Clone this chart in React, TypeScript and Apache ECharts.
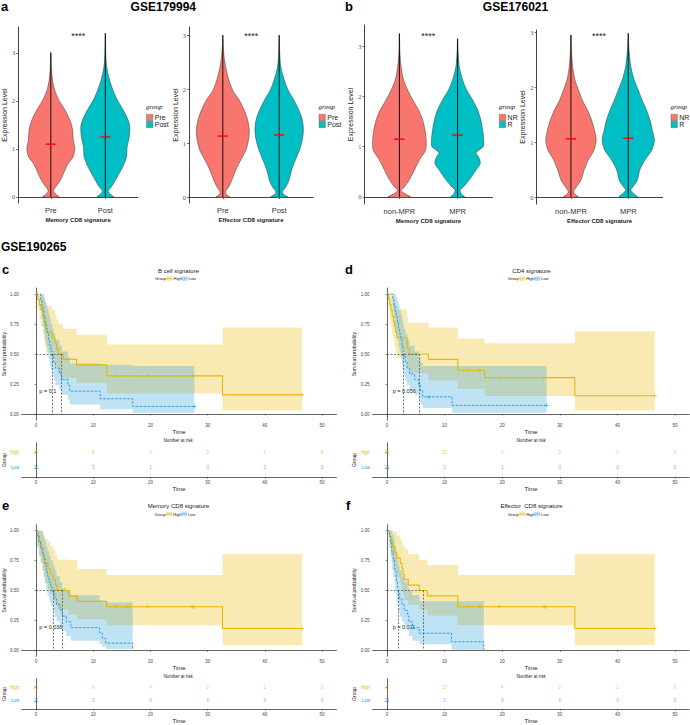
import React, { useEffect, useRef } from "react";
import * as echarts from "echarts";

const FONT = '"Liberation Sans", Arial, sans-serif';
const SERIF = '"Liberation Serif", "Times New Roman", serif';
const HIGH_C = "#E7B800";
const LOW_C = "#2E9FDF";
const HIGH_FILL = "rgba(231,184,0,0.3)";
const LOW_FILL = "rgba(46,159,223,0.3)";
const GROUP_A = "#F8766D";
const GROUP_B = "#00BFC4";
const PLUS = "path://M4,0H6V4H10V6H6V10H4V6H0V4H4Z";

// ---------------- violin data (y value, half-width in category units) ----------------
const catsA = ["Pre", "Post"];
const catsB = ["non-MPR", "MPR"];
const groupsA = ["Pre", "Post"];
const groupsB = ["NR", "R"];
const violinYTicks = [0, 1, 2, 3];

const v1Pre = [[0, 0.15], [0.05, 0.1], [0.1, 0.06], [0.14, 0.05], [0.21, 0.09], [0.35, 0.175], [0.56, 0.26], [0.7, 0.32], [0.84, 0.41], [1.02, 0.44], [1.19, 0.41], [1.4, 0.4], [1.6, 0.35], [1.81, 0.26], [2.02, 0.146], [2.23, 0.07], [2.44, 0.03], [2.7, 0.01], [3.01, 0]];
const v1Post = [[0, 0.15], [0.05, 0.1], [0.1, 0.06], [0.14, 0.06], [0.24, 0.13], [0.42, 0.22], [0.63, 0.32], [0.84, 0.39], [1.04, 0.4], [1.25, 0.44], [1.46, 0.45], [1.6, 0.42], [1.81, 0.33], [2.02, 0.22], [2.23, 0.14], [2.44, 0.077], [2.71, 0.025], [3.0, 0.008], [3.41, 0]];
const v1Means = [1.1, 1.25];

const v2Pre = [[0, 0.12], [0.05, 0.06], [0.1, 0.05], [0.19, 0.105], [0.31, 0.16], [0.5, 0.23], [0.69, 0.32], [0.87, 0.41], [1.06, 0.456], [1.24, 0.47], [1.43, 0.44], [1.61, 0.38], [1.8, 0.29], [1.98, 0.175], [2.23, 0.09], [2.54, 0.03], [2.8, 0.008], [3.0, 0]];
const v2Post = [[0, 0.15], [0.05, 0.08], [0.1, 0.06], [0.19, 0.12], [0.31, 0.175], [0.5, 0.22], [0.69, 0.29], [0.87, 0.36], [1.06, 0.41], [1.24, 0.43], [1.43, 0.41], [1.61, 0.35], [1.8, 0.26], [1.98, 0.16], [2.17, 0.09], [2.41, 0.03], [2.7, 0.008], [3.0, 0]];
const v2Means = [1.13, 1.15];

const v3NonMPR = [[0, 0.19], [0.07, 0.086], [0.13, 0.03], [0.2, 0.086], [0.34, 0.17], [0.54, 0.26], [0.74, 0.345], [0.93, 0.45], [1.13, 0.46], [1.33, 0.44], [1.53, 0.4], [1.73, 0.33], [1.93, 0.23], [2.13, 0.14], [2.33, 0.07], [2.59, 0.03], [2.9, 0.008], [3.25, 0]];
const v3MPR = [[0, 0.115], [0.07, 0.06], [0.14, 0.046], [0.2, 0.1], [0.34, 0.2], [0.54, 0.32], [0.67, 0.39], [0.8, 0.36], [0.88, 0.32], [1.0, 0.44], [1.13, 0.45], [1.33, 0.43], [1.53, 0.4], [1.73, 0.345], [1.93, 0.26], [2.13, 0.155], [2.33, 0.086], [2.59, 0.03], [2.9, 0.008], [3.15, 0]];
const v3Means = [1.15, 1.23];

const v4NonMPR = [[0, 0.13], [0.05, 0.07], [0.1, 0.047], [0.19, 0.1], [0.31, 0.175], [0.49, 0.23], [0.67, 0.3], [0.85, 0.4], [1.04, 0.44], [1.22, 0.41], [1.4, 0.36], [1.58, 0.29], [1.76, 0.2], [1.95, 0.13], [2.13, 0.07], [2.37, 0.03], [2.7, 0.008], [2.95, 0]];
const v4MPR = [[0, 0.16], [0.07, 0.088], [0.13, 0.047], [0.19, 0.088], [0.31, 0.16], [0.49, 0.2], [0.67, 0.29], [0.85, 0.41], [1.04, 0.456], [1.22, 0.42], [1.4, 0.38], [1.58, 0.32], [1.76, 0.245], [1.95, 0.175], [2.13, 0.105], [2.37, 0.047], [2.7, 0.012], [2.98, 0]];
const v4Means = [1.06, 1.07];

// ---------------- Kaplan-Meier data: [time, survival, lower CI, upper CI] ----------------
const timeTicks = [0, 10, 20, 30, 40, 50];
const survTicks = [0, 0.25, 0.5, 0.75, 1];

const cHigh = [[0, 1, 1, 1], [0.3, 0.955, 0.87, 1], [0.6, 0.909, 0.79, 1], [0.9, 0.864, 0.73, 1], [1.2, 0.818, 0.67, 0.99], [1.4, 0.773, 0.61, 0.96], [1.6, 0.727, 0.56, 0.93], [1.8, 0.682, 0.51, 0.9], [2.8, 0.636, 0.47, 0.87], [3.3, 0.591, 0.42, 0.83], [3.6, 0.545, 0.38, 0.79], [3.9, 0.5, 0.34, 0.75], [4.75, 0.455, 0.3, 0.71], [7.1, 0.409, 0.26, 0.66], [12.4, 0.318, 0.17, 0.58], [32.6, 0.159, 0.03, 0.72], [46.5, 0.159, 0.03, 0.72]];
const cLow = [[0, 1, 1, 1], [0.8, 0.952, 0.86, 1], [1.0, 0.905, 0.79, 1], [1.2, 0.857, 0.73, 1], [1.4, 0.81, 0.67, 0.97], [1.6, 0.762, 0.61, 0.94], [1.8, 0.714, 0.56, 0.91], [2.0, 0.667, 0.51, 0.87], [2.2, 0.619, 0.46, 0.83], [2.4, 0.571, 0.41, 0.79], [2.6, 0.524, 0.37, 0.75], [2.84, 0.476, 0.32, 0.71], [3.1, 0.429, 0.28, 0.67], [3.4, 0.381, 0.24, 0.62], [4.1, 0.333, 0.2, 0.57], [4.5, 0.286, 0.16, 0.52], [5.6, 0.238, 0.12, 0.47], [5.9, 0.19, 0.08, 0.42], [11.2, 0.127, 0.04, 0.41], [16.9, 0.063, 0.01, 0.4], [27.7, 0.063, 0.01, 0.4]];
const cHighCens = [[14.1, 0.318], [16.1, 0.318], [19.6, 0.318], [27.4, 0.318], [46.5, 0.159]];
const cLowCens = [[27.7, 0.063]];
const cMedians = [2.84, 4.46];
const cRiskHigh = [22, 9, 3, 2, 1, 0];
const cRiskLow = [21, 3, 1, 0, 0, 0];

const dHigh = [[0, 1, 1, 1], [0.3, 0.955, 0.87, 1], [0.5, 0.909, 0.79, 1], [0.7, 0.864, 0.73, 1], [0.9, 0.818, 0.67, 0.99], [1.1, 0.773, 0.61, 0.96], [1.3, 0.727, 0.56, 0.93], [1.5, 0.682, 0.51, 0.9], [1.7, 0.636, 0.47, 0.87], [3.5, 0.591, 0.42, 0.8], [3.6, 0.545, 0.38, 0.76], [3.9, 0.5, 0.34, 0.76], [7.2, 0.455, 0.28, 0.72], [12.3, 0.364, 0.21, 0.63], [16.95, 0.303, 0.15, 0.59], [32.6, 0.152, 0.03, 0.69], [46.5, 0.152, 0.03, 0.69]];
const dLow = [[0, 1, 1, 1], [1.0, 0.952, 0.86, 1], [1.2, 0.905, 0.79, 1], [1.4, 0.857, 0.73, 1], [1.6, 0.81, 0.67, 0.97], [1.8, 0.762, 0.61, 0.94], [2.0, 0.714, 0.56, 0.91], [2.2, 0.667, 0.51, 0.87], [2.4, 0.619, 0.46, 0.83], [2.6, 0.571, 0.41, 0.79], [2.75, 0.524, 0.37, 0.75], [2.9, 0.476, 0.32, 0.71], [3.2, 0.429, 0.28, 0.67], [3.5, 0.381, 0.24, 0.62], [3.9, 0.333, 0.2, 0.57], [4.8, 0.286, 0.16, 0.52], [5.5, 0.238, 0.12, 0.47], [5.8, 0.19, 0.08, 0.43], [6.2, 0.143, 0.05, 0.4], [11.3, 0.072, 0.011, 0.4], [27.7, 0.072, 0.011, 0.4]];
const dHighCens = [[14.1, 0.364], [16.1, 0.364], [19.5, 0.303], [27.2, 0.303], [46.5, 0.152]];
const dLowCens = [[7.3, 0.143], [27.7, 0.072]];
const dMedians = [2.9, 5.55];
const dRiskHigh = [22, 10, 3, 2, 1, 0];
const dRiskLow = [21, 2, 1, 0, 0, 0];

const eHigh = [[0, 1, 1, 1], [0.35, 0.955, 0.87, 1], [0.6, 0.909, 0.79, 1], [0.9, 0.864, 0.73, 1], [1.1, 0.818, 0.67, 0.99], [1.3, 0.773, 0.61, 0.96], [1.5, 0.727, 0.56, 0.93], [2.1, 0.682, 0.51, 0.91], [2.5, 0.636, 0.47, 0.87], [3.0, 0.591, 0.42, 0.84], [3.4, 0.545, 0.38, 0.8], [3.7, 0.5, 0.34, 0.76], [5.7, 0.455, 0.3, 0.755], [7.2, 0.409, 0.26, 0.68], [12.35, 0.364, 0.21, 0.63], [32.6, 0.182, 0.044, 0.805], [46.5, 0.182, 0.044, 0.805]];
const eLow = [[0, 1, 1, 1], [0.2, 0.952, 0.86, 1], [0.5, 0.905, 0.79, 1], [0.8, 0.857, 0.73, 1], [1.2, 0.81, 0.67, 0.97], [1.4, 0.762, 0.61, 0.94], [1.6, 0.714, 0.56, 0.91], [1.8, 0.667, 0.51, 0.87], [2.0, 0.619, 0.46, 0.83], [2.3, 0.571, 0.41, 0.79], [2.6, 0.524, 0.37, 0.75], [2.96, 0.476, 0.32, 0.71], [3.3, 0.429, 0.28, 0.67], [3.6, 0.381, 0.24, 0.62], [4.2, 0.333, 0.2, 0.57], [4.6, 0.286, 0.16, 0.52], [5.3, 0.238, 0.12, 0.5], [6.1, 0.19, 0.08, 0.46], [11.1, 0.145, 0.05, 0.42], [11.6, 0.1, 0.03, 0.4], [12.2, 0.06, 0.01, 0.4], [16.9, 0, 0, 0]];
const eHighCens = [[14.0, 0.364], [16.0, 0.364], [16.3, 0.364], [19.5, 0.364], [27.3, 0.364], [27.6, 0.364], [46.5, 0.182]];
const eLowCens: number[][] = [];
const eMedians = [3.0, 4.65];
const eRiskHigh = [22, 9, 4, 2, 1, 0];
const eRiskLow = [21, 3, 0, 0, 0, 0];

const fHigh = [[0, 1, 1, 1], [0.4, 0.955, 0.87, 1], [0.7, 0.909, 0.79, 1], [1.0, 0.864, 0.73, 1], [1.3, 0.818, 0.67, 0.99], [1.7, 0.773, 0.61, 0.96], [2.3, 0.727, 0.56, 0.93], [2.6, 0.682, 0.51, 0.9], [2.8, 0.636, 0.47, 0.87], [3.0, 0.591, 0.42, 0.85], [3.7, 0.545, 0.38, 0.805], [5.6, 0.5, 0.34, 0.755], [7.0, 0.455, 0.29, 0.713], [12.3, 0.364, 0.21, 0.63], [32.6, 0.182, 0.044, 0.805], [46.5, 0.182, 0.044, 0.805]];
const fLow = [[0, 1, 1, 1], [0.4, 0.952, 0.86, 1], [0.6, 0.905, 0.79, 1], [0.8, 0.857, 0.73, 1], [0.9, 0.81, 0.67, 0.97], [1.1, 0.762, 0.61, 0.94], [1.3, 0.714, 0.56, 0.91], [1.4, 0.667, 0.51, 0.87], [1.6, 0.619, 0.46, 0.83], [1.7, 0.571, 0.41, 0.79], [1.85, 0.524, 0.37, 0.75], [1.97, 0.476, 0.32, 0.71], [2.2, 0.429, 0.28, 0.67], [2.6, 0.381, 0.24, 0.62], [3.0, 0.333, 0.2, 0.57], [3.6, 0.286, 0.16, 0.53], [3.8, 0.238, 0.12, 0.5], [4.4, 0.19, 0.08, 0.46], [5.6, 0.143, 0.05, 0.41], [11.2, 0.071, 0.005, 0.41], [16.8, 0, 0, 0]];
const fHighCens = [[14.1, 0.364], [16.0, 0.364], [16.2, 0.364], [19.5, 0.364], [27.3, 0.364], [27.6, 0.364], [46.5, 0.182]];
const fLowCens: number[][] = [];
const fMedians = [1.97, 6.3];
const fRiskHigh = [22, 10, 4, 2, 1, 0];
const fRiskLow = [21, 2, 0, 0, 0, 0];

// ---------------- layout ----------------
const violinPanels = [
  { left: 14, top: 27, width: 124, height: 176, yMin: -0.125, yMax: 3.54, cats: catsA, groups: groupsA, xName: "Memory CD8 signature", shapes: [v1Pre, v1Post], means: v1Means, nameGap: 5.5, starX: 78.3, legendX: 146.5 },
  { left: 189, top: 27, width: 124, height: 176, yMin: -0.11, yMax: 3.15, cats: catsA, groups: groupsA, xName: "Effector CD8 signature", shapes: [v2Pre, v2Post], means: v2Means, nameGap: 8.5, starX: 251.3, legendX: 319 },
  { left: 364.5, top: 25, width: 128, height: 179, yMin: -0.14, yMax: 3.42, cats: catsB, groups: groupsB, xName: "Memory CD8 signature", shapes: [v3NonMPR, v3MPR], means: v3Means, nameGap: 6, starX: 428.3, legendX: 499.3 },
  { left: 536.6, top: 30, width: 126, height: 174, yMin: -0.127, yMax: 3.04, cats: catsB, groups: groupsB, xName: "Effector CD8 signature", shapes: [v4NonMPR, v4MPR], means: v4Means, nameGap: 6.4, starX: 599, legendX: 671 },
];

const kmPanels = [
  { left: 19.6, top: 288, height: 132, riskTop: 442.7, riskHeight: 34.6, title: "B cell signature", titleY: 270.5, legendX: 155, legendY: 278.7, p: "p = 0.1", pX: 39.3, pY: 390.8, high: cHigh, low: cLow, highCens: cHighCens, lowCens: cLowCens, medians: cMedians, riskHigh: cRiskHigh, riskLow: cRiskLow },
  { left: 372.6, top: 288, height: 132, riskTop: 442.7, riskHeight: 34.6, title: "CD4 signature", titleY: 270.5, legendX: 507.7, legendY: 278.7, p: "p = 0.056", pX: 392.7, pY: 390.8, high: dHigh, low: dLow, highCens: dHighCens, lowCens: dLowCens, medians: dMedians, riskHigh: dRiskHigh, riskLow: dRiskLow },
  { left: 19.6, top: 524.7, height: 131.6, riskTop: 678.8, riskHeight: 34, title: "Memory CD8 signature", titleY: 506.3, legendX: 154.5, legendY: 514, p: "p = 0.036", pX: 39.3, pY: 626.7, high: eHigh, low: eLow, highCens: eHighCens, lowCens: eLowCens, medians: eMedians, riskHigh: eRiskHigh, riskLow: eRiskLow },
  { left: 372.6, top: 524.7, height: 131.6, riskTop: 678.8, riskHeight: 34, title: "Effector  CD8 signature", titleY: 506.3, legendX: 507.7, legendY: 514, p: "p = 0.011", pX: 392.7, pY: 626.7, high: fHigh, low: fLow, highCens: fHighCens, lowCens: fLowCens, medians: fMedians, riskHigh: fRiskHigh, riskLow: fRiskLow },
];
const KM_WIDTH = 316.8;

function txt(text: string, x: number, y: number, size: number, o: any = {}) {
  return {
    type: "text", x, y, silent: true, rotation: o.rotation || 0,
    style: {
      text, fill: o.color || "#000",
      font: `${o.italic ? "italic " : ""}${o.bold ? "bold " : ""}${size}px ${o.family || FONT}`,
      textAlign: o.align || "center", textVerticalAlign: "middle",
    },
  };
}

function bandPoints(steps: number[][]) {
  const up: number[][] = [];
  const lo: number[][] = [];
  for (let i = 0; i < steps.length - 1; i++) {
    const t = steps[i][0];
    const t2 = steps[i + 1][0];
    up.push([t, steps[i][3]], [t2, steps[i][3]]);
    lo.push([t, steps[i][2]], [t2, steps[i][2]]);
  }
  return up.concat(lo.reverse());
}

function buildOption() {
  const grid: any[] = [];
  const xAxis: any[] = [];
  const yAxis: any[] = [];
  const series: any[] = [];
  const g: any[] = [];

  // headers
  g.push(txt("a", 1, 6.6, 13, { bold: true, align: "left" }));
  g.push(txt("GSE179994", 163.3, 6.6, 12, { bold: true }));
  g.push(txt("b", 345, 6.6, 13, { bold: true, align: "left" }));
  g.push(txt("GSE176021", 515.5, 6.6, 12, { bold: true }));
  g.push(txt("GSE190265", 1, 247.2, 12, { bold: true, align: "left" }));
  g.push(txt("c", 2, 269, 13, { bold: true, align: "left" }));
  g.push(txt("d", 345, 269, 13, { bold: true, align: "left" }));
  g.push(txt("e", 2, 505, 13, { bold: true, align: "left" }));
  g.push(txt("f", 346, 505.7, 13, { bold: true, align: "left" }));

  // ---------- violins ----------
  violinPanels.forEach((p) => {
    const gi = grid.length;
    grid.push({ left: p.left, top: p.top, width: p.width, height: p.height });
    xAxis.push({
      gridIndex: gi, type: "value", min: 0.4, max: 2.6,
      axisLine: { show: true, lineStyle: { color: "#111", width: 0.8 } },
      axisTick: { show: true, customValues: [1, 2], length: 2, lineStyle: { color: "#111", width: 0.6 } },
      axisLabel: { customValues: [1, 2], formatter: (v: number) => p.cats[Math.round(v) - 1], fontSize: 7.5, color: "#333", margin: 3.5 },
      splitLine: { show: false },
      name: p.xName, nameLocation: "middle", nameGap: 13.5,
      nameTextStyle: { fontSize: 6, fontWeight: "bold", color: "#222" },
    });
    yAxis.push({
      gridIndex: gi, type: "value", min: p.yMin, max: p.yMax,
      axisLine: { show: true, lineStyle: { color: "#111", width: 0.8 } },
      axisTick: { show: true, customValues: violinYTicks, length: 2, lineStyle: { color: "#111", width: 0.6 } },
      axisLabel: { customValues: violinYTicks, fontSize: 6.5, fontFamily: SERIF, color: "#555", margin: 3 },
      splitLine: { show: false },
      name: "Expression Level", nameLocation: "middle", nameGap: p.nameGap,
      nameTextStyle: { fontSize: 7, color: "#1a1a1a", fontFamily: FONT },
    });
    series.push({
      type: "custom", xAxisIndex: gi, yAxisIndex: gi, silent: true,
      data: [[1, p.means[0]], [2, p.means[1]]],
      encode: { x: 0, y: 1 },
      renderItem: (params: any, api: any) => {
        const k = params.dataIndex;
        const c = k + 1;
        const shape = p.shapes[k];
        const pts: number[][] = [];
        shape.forEach((s) => pts.push(api.coord([c + s[1], s[0]])));
        for (let j = shape.length - 2; j >= 0; j--) pts.push(api.coord([c - shape[j][1], shape[j][0]]));
        const b = api.coord([c, shape[0][0]]);
        const t = api.coord([c, shape[shape.length - 1][0]]);
        const mL = api.coord([c - 0.09, p.means[k]]);
        const mR = api.coord([c + 0.09, p.means[k]]);
        return {
          type: "group",
          children: [
            { type: "polygon", shape: { points: pts, smooth: 0.3 }, style: { fill: k === 0 ? GROUP_A : GROUP_B, stroke: "#3a3a3a", lineWidth: 0.5 } },
            { type: "line", shape: { x1: b[0], y1: b[1], x2: t[0], y2: t[1] }, style: { stroke: "#000", lineWidth: 0.9 } },
            { type: "line", shape: { x1: mL[0], y1: mL[1], x2: mR[0], y2: mR[1] }, style: { stroke: "#FF0000", lineWidth: 1.4 } },
          ],
        };
      },
    });
    g.push(txt("****", p.starX, 36.2, 9, { color: "#222" }));
    // legend
    const lx = p.legendX;
    g.push(txt("group", lx - 0.5, 107, 7, { italic: true, family: SERIF, align: "left", color: "#111" }));
    g.push({ type: "rect", silent: true, shape: { x: lx, y: 114.3, width: 6.4, height: 6.4 }, style: { fill: GROUP_A, stroke: "#555", lineWidth: 0.4 } });
    g.push({ type: "rect", silent: true, shape: { x: lx, y: 121.3, width: 6.4, height: 6.4 }, style: { fill: GROUP_B, stroke: "#555", lineWidth: 0.4 } });
    g.push(txt(p.groups[0], lx + 8.3, 117.5, 7, { align: "left", color: "#222" }));
    g.push(txt(p.groups[1], lx + 8.3, 124.5, 7, { align: "left", color: "#222" }));
  });

  // ---------- KM ----------
  kmPanels.forEach((p) => {
    const gi = grid.length;
    grid.push({ left: p.left, top: p.top, width: KM_WIDTH, height: p.height });
    const timeAxis = (idx: number) => ({
      gridIndex: idx, type: "value", min: -2.5, max: 52.5,
      axisLine: { show: true, lineStyle: { color: "#222", width: 0.7 } },
      axisTick: { show: true, customValues: timeTicks, length: 1.5, lineStyle: { color: "#222", width: 0.5 } },
      axisLabel: { customValues: timeTicks, fontSize: 4.5, color: "#444", margin: 3 },
      splitLine: { show: false },
      name: "Time", nameLocation: "middle", nameGap: 8,
      nameTextStyle: { fontSize: 6, color: "#222" },
    });
    xAxis.push(timeAxis(gi));
    yAxis.push({
      gridIndex: gi, type: "value", min: -0.05, max: 1.05,
      axisLine: { show: true, lineStyle: { color: "#222", width: 0.7 } },
      axisTick: { show: true, customValues: survTicks, length: 1.5, lineStyle: { color: "#222", width: 0.5 } },
      axisLabel: { customValues: survTicks, formatter: (v: number) => v.toFixed(2), fontSize: 4.5, color: "#444", margin: 3 },
      splitLine: { show: false },
      name: "Survival probability", nameLocation: "middle", nameGap: 12,
      nameTextStyle: { fontSize: 5.3, color: "#222" },
    });
    const band = (steps: number[][], fill: string, z: number) => ({
      type: "custom", xAxisIndex: gi, yAxisIndex: gi, silent: true, z,
      data: [[steps[0][0], steps[0][1]]], encode: { x: 0, y: 1 },
      renderItem: (_params: any, api: any) => ({
        type: "polygon",
        shape: { points: bandPoints(steps).map((pt) => api.coord(pt)) },
        style: { fill },
      }),
    });
    series.push(band(p.high, HIGH_FILL, 1));
    series.push(band(p.low, LOW_FILL, 1));
    const [mLow, mHigh] = p.medians;
    const mMax = Math.max(mLow, mHigh);
    series.push({
      type: "line", xAxisIndex: gi, yAxisIndex: gi, step: "end", symbol: "none", z: 3, silent: true,
      data: p.high.map((s) => [s[0], s[1]]),
      lineStyle: { color: HIGH_C, width: 1.1 },
      markLine: {
        silent: true, symbol: "none", label: { show: false },
        lineStyle: { color: "#444", type: [2, 1.5], width: 0.7 },
        data: [
          [{ coord: [0, 0.5] }, { coord: [mMax, 0.5] }],
          [{ coord: [mLow, 0.5] }, { coord: [mLow, 0] }],
          [{ coord: [mHigh, 0.5] }, { coord: [mHigh, 0] }],
        ],
      },
    });
    series.push({
      type: "line", xAxisIndex: gi, yAxisIndex: gi, step: "end", symbol: "none", z: 3, silent: true,
      data: p.low.map((s) => [s[0], s[1]]),
      lineStyle: { color: LOW_C, width: 1, type: [2.5, 1.5] },
    });
    series.push({ type: "scatter", xAxisIndex: gi, yAxisIndex: gi, symbol: PLUS, symbolSize: 4, z: 4, silent: true, data: p.highCens, itemStyle: { color: HIGH_C } });
    series.push({ type: "scatter", xAxisIndex: gi, yAxisIndex: gi, symbol: PLUS, symbolSize: 4, z: 4, silent: true, data: p.lowCens, itemStyle: { color: LOW_C } });

    // risk table
    const ri = grid.length;
    grid.push({ left: p.left, top: p.riskTop, width: KM_WIDTH, height: p.riskHeight });
    xAxis.push(timeAxis(ri));
    yAxis.push({
      gridIndex: ri, type: "value", min: 0.4, max: 2.6,
      axisLine: { show: true, lineStyle: { color: "#222", width: 0.7 } },
      axisTick: { show: true, customValues: [1, 2], length: 1.5, lineStyle: { color: "#222", width: 0.5 } },
      axisLabel: {
        customValues: [1, 2], margin: 2.5,
        formatter: (v: number) => (Math.round(v) === 2 ? "{h|High}" : "{l|Low}"),
        rich: { h: { color: HIGH_C, fontSize: 4.5 }, l: { color: LOW_C, fontSize: 4.5 } },
      },
      splitLine: { show: false },
      name: "Group", nameLocation: "middle", nameGap: 13.5,
      nameTextStyle: { fontSize: 5, color: "#222" },
    });
    const riskSeries = (vals: number[], row: number, color: string) => ({
      type: "scatter", xAxisIndex: ri, yAxisIndex: ri, symbolSize: 1, silent: true,
      itemStyle: { color: "rgba(0,0,0,0)" },
      data: timeTicks.map((t, j) => [t, row, vals[j]]),
      label: { show: true, position: "inside", formatter: (q: any) => String(q.value[2]), color, fontSize: 4.5 },
    });
    series.push(riskSeries(p.riskHigh, 2, HIGH_C));
    series.push(riskSeries(p.riskLow, 1, LOW_C));

    const cx = p.left + KM_WIDTH / 2;
    g.push(txt(p.title, cx + 0.5, p.titleY, 6, { color: "#222" }));
    g.push(txt("Number at risk", cx, p.riskTop - 2, 4.5, { color: "#222" }));
    g.push(txt(p.p, p.pX, p.pY, 5.5, { align: "left", color: "#222" }));
    // KM legend
    const bx = p.legendX;
    const ly = p.legendY;
    g.push(txt("Group", bx, ly, 4, { align: "left", color: "#222" }));
    g.push({ type: "rect", silent: true, shape: { x: bx + 11.5, y: ly - 2.3, width: 6, height: 4.6 }, style: { fill: HIGH_FILL } });
    g.push({ type: "line", silent: true, shape: { x1: bx + 11.5, y1: ly, x2: bx + 17.5, y2: ly }, style: { stroke: HIGH_C, lineWidth: 0.8 } });
    g.push(txt("High", bx + 18.5, ly, 4, { align: "left", color: "#222" }));
    g.push({ type: "rect", silent: true, shape: { x: bx + 26.5, y: ly - 2.3, width: 6, height: 4.6 }, style: { fill: LOW_FILL } });
    g.push({ type: "line", silent: true, shape: { x1: bx + 26.5, y1: ly, x2: bx + 32.5, y2: ly }, style: { stroke: LOW_C, lineWidth: 0.8, lineDash: [1.5, 1] } });
    g.push(txt("Low", bx + 33.5, ly, 4, { align: "left", color: "#222" }));
  });

  return {
    animation: false,
    backgroundColor: "#fff",
    textStyle: { fontFamily: FONT },
    grid, xAxis, yAxis, series,
    graphic: { elements: g },
  };
}

export default function App() {
  const ref = useRef<HTMLDivElement>(null);
  useEffect(() => {
    const chart = echarts.init(ref.current as HTMLDivElement, undefined, { renderer: "svg" });
    chart.setOption(buildOption() as any);
    return () => chart.dispose();
  }, []);
  return (
    <div
      ref={ref}
      style={{ position: "fixed", left: 0, top: 0, width: 690, height: 725, background: "#fff" }}
    />
  );
}
